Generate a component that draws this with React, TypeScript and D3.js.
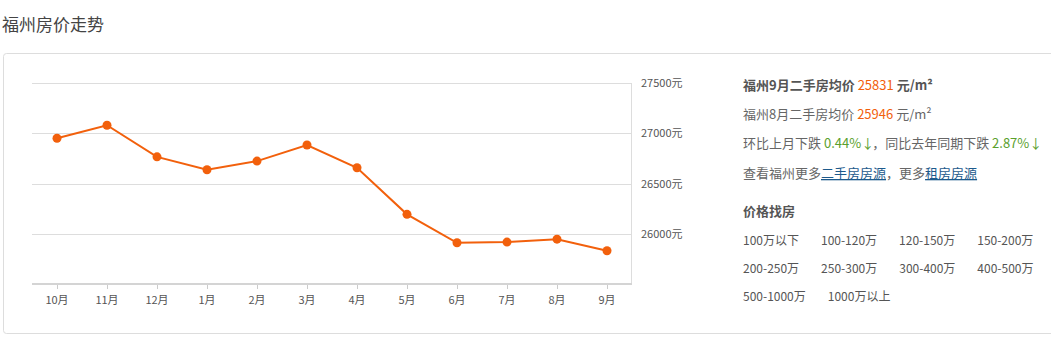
import React from "react";
import * as d3 from "d3";

const months = ["10月", "11月", "12月", "1月", "2月", "3月", "4月", "5月", "6月", "7月", "8月", "9月"];
const prices = [26950, 27080, 26765, 26637, 26723, 26883, 26657, 26193, 25910, 25917, 25946, 25831];
const yTicks = [26000, 26500, 27000, 27500];
const priceRanges = [
  ["100万以下", "100-120万", "120-150万", "150-200万"],
  ["200-250万", "250-300万", "300-400万", "400-500万"],
  ["500-1000万", "1000万以上"],
];

const W = 1051;
const H = 338;
const ORANGE = "#f2600c";
const CJK = "'Noto Sans CJK SC', 'Noto Sans', sans-serif";

let _ctx: CanvasRenderingContext2D | null = null;
function measure(text: string, font: string) {
  if (!_ctx) _ctx = document.createElement("canvas").getContext("2d");
  if (!_ctx) return text.length * 8;
  _ctx.font = font;
  return _ctx.measureText(text).width;
}

export default function App() {
  const x = d3.scaleBand<string>().domain(months).range([32, 632]);
  const y = d3.scaleLinear().domain([25500, 27500]).range([284, 83]);
  const line = d3
    .line<number>()
    .x((_, i) => (x(months[i]) as number) + x.bandwidth() / 2)
    .y((d) => y(d));

  const rangeFont = `12px ${CJK}`;
  const rows = priceRanges.map((row) => {
    let cx = 743;
    return row.map((t) => {
      const item = { t, x: cx };
      cx += measure(t, rangeFont) + 22;
      return item;
    });
  });

  return (
    <svg
      width={W}
      height={H}
      style={{ position: "absolute", left: 0, top: 0, display: "block" }}
      fontFamily={CJK}
    >
      <rect width={W} height={H} fill="#fff" />
      <text x={2} y={31} fontSize={17} fill="#444">福州房价走势</text>
      <rect x={3.5} y={53.5} width={1060} height={280} rx={3} fill="none" stroke="#ddd" />

      {yTicks.map((t) => (
        <g key={t}>
          <line x1={32} x2={632} y1={Math.round(y(t)) + 0.5} y2={Math.round(y(t)) + 0.5} stroke="#ddd" />
          <text x={641} y={y(t) + 4} fontSize={11} fill="#555">{t}元</text>
        </g>
      ))}
      <line x1={631.5} x2={631.5} y1={83} y2={284} stroke="#ddd" />
      <line x1={32} x2={632} y1={284} y2={284} stroke="#d4d4d4" strokeWidth={2} />
      {months.map((m) => {
        const cx = (x(m) as number) + x.bandwidth() / 2;
        return (
          <g key={m}>
            <line x1={Math.round(cx) + 0.5} x2={Math.round(cx) + 0.5} y1={285} y2={289} stroke="#ccc" />
            <text x={cx} y={304} fontSize={11} fill="#555" textAnchor="middle">{m}</text>
          </g>
        );
      })}

      <path d={line(prices) as string} fill="none" stroke={ORANGE} strokeWidth={2} />
      {prices.map((p, i) => (
        <circle key={i} cx={(x(months[i]) as number) + x.bandwidth() / 2} cy={y(p)} r={4.5} fill={ORANGE} />
      ))}

      <text x={743} y={90} fontSize={13} fill="#555">
        <tspan fontWeight="bold">福州9月二手房均价 </tspan>
        <tspan fill={ORANGE}>25831</tspan>
        <tspan fontWeight="bold"> 元/m²</tspan>
      </text>
      <text x={743} y={119} fontSize={13} fill="#666">
        福州8月二手房均价 <tspan fill={ORANGE}>25946</tspan> 元/m²
      </text>
      <text x={743} y={148} fontSize={13} fill="#666">
        环比上月下跌 <tspan fill="#5aa02c">0.44%↓</tspan><tspan dx={-2}>，同比去年同期下跌 </tspan><tspan fill="#5aa02c">2.87%↓</tspan>
      </text>
      <text x={743} y={178} fontSize={13} fill="#666">
        查看福州更多<tspan fill="#1d5a8c" textDecoration="underline">二手房房源</tspan>，更多<tspan fill="#1d5a8c" textDecoration="underline">租房房源</tspan>
      </text>
      <text x={743} y={216} fontSize={13} fill="#555" fontWeight="bold">价格找房</text>
      {rows.map((row, ri) =>
        row.map((it) => (
          <text key={it.t} x={it.x} y={245 + ri * 28} fontSize={12} fill="#555">{it.t}</text>
        ))
      )}
    </svg>
  );
}
